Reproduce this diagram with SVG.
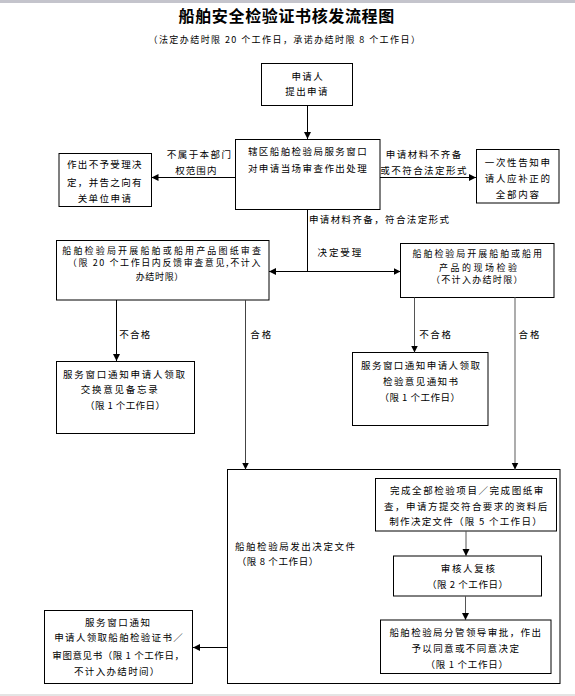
<svg xmlns="http://www.w3.org/2000/svg" width="575" height="696" viewBox="0 0 575 696">
<style>
  .t { font-family: "Noto Sans CJK SC", "Liberation Sans", sans-serif; font-size: 9.5px; fill: #000; }
  .s { font-size: 9px; }
  .title { font-family: "Noto Sans CJK SC", "Liberation Sans", sans-serif; font-size: 16px; font-weight: bold; fill: #000; }
  .box { fill: #fff; stroke: #000; stroke-width: 1; }
  .ln { fill: none; stroke: #000; stroke-width: 1; }
  .g1 { stroke: #444; }
  .g2 { stroke: #555; }
  .g3 { stroke: #808080; stroke-width: 1.3; }
</style>
<defs>
  <marker id="ah" markerUnits="userSpaceOnUse" markerWidth="8" markerHeight="8" refX="7" refY="3.5" orient="auto">
    <path d="M0,0 L7,3.5 L0,7 z" fill="#000"/>
  </marker>
  <marker id="ahs" markerUnits="userSpaceOnUse" markerWidth="8" markerHeight="8" refX="0" refY="3.5" orient="auto">
    <path d="M7,0 L0,3.5 L7,7 z" fill="#000"/>
  </marker>
</defs>
<rect x="0" y="0" width="575" height="3" fill="#c4c4cc"/>
<rect x="0" y="694" width="575" height="2" fill="#e4e4e4"/>

<text class="title" x="178.6" y="22" textLength="215.6" lengthAdjust="spacing">船舶安全检验证书核发流程图</text>
<text class="t" style="font-size:9px" x="148.5" y="43.4" textLength="271.4" lengthAdjust="spacing">（法定办结时限 20 个工作日，承诺办结时限 8 个工作日）</text>

<g id="node-apply">
  <rect class="box" x="261.5" y="63.5" width="91" height="42"/>
  <text class="t" x="291.5" y="79.6" textLength="31.2" lengthAdjust="spacing">申请人</text>
  <text class="t" x="285.3" y="95.3" textLength="42.2" lengthAdjust="spacing">提出申请</text>
</g>

<g id="node-window">
  <rect class="box" x="235.5" y="139.5" width="144.5" height="70"/>
  <text class="t" x="247.9" y="155.3" textLength="118.8" lengthAdjust="spacing">辖区船舶检验局服务窗口</text>
  <text class="t" x="247.9" y="171.9" textLength="118.8" lengthAdjust="spacing">对申请当场审查作出处理</text>
</g>

<g id="node-reject">
  <rect class="box" x="59" y="153.5" width="92.5" height="53"/>
  <text class="t" x="67" y="167.9" textLength="74.5" lengthAdjust="spacing">作出不予受理决</text>
  <text class="t" x="67" y="185.9" textLength="74.5" lengthAdjust="spacing">定，并告之向有</text>
  <text class="t" x="77.7" y="201.6" textLength="53.2" lengthAdjust="spacing">关单位申请</text>
</g>

<g id="node-supplement">
  <rect class="box" x="476.5" y="149.5" width="82.5" height="53.5"/>
  <text class="t" x="484.8" y="165.9" textLength="65.2" lengthAdjust="spacing">一次性告知申</text>
  <text class="t" x="484.8" y="182.3" textLength="65.2" lengthAdjust="spacing">请人应补正的</text>
  <text class="t" x="495.8" y="197.6" textLength="43.2" lengthAdjust="spacing">全部内容</text>
</g>

<g id="node-drawing-review">
  <rect class="box" x="56.5" y="240.5" width="212.5" height="59.5"/>
  <text class="t s" x="62.3" y="254.4" textLength="198.7" lengthAdjust="spacing">船舶检验局开展船舶或船用产品图纸审查</text>
  <text class="t s" x="67.8" y="266.1" textLength="192.6" lengthAdjust="spacing">（限 20 个工作日内反馈审查意见,不计入</text>
  <text class="t s" x="135.7" y="280.1" textLength="47.6" lengthAdjust="spacing">办结时限）</text>
</g>

<g id="node-site-inspection">
  <rect class="box" x="400.5" y="243.5" width="153.5" height="54"/>
  <text class="t s" x="412.5" y="257.4" textLength="129.5" lengthAdjust="spacing">船舶检验局开展船舶或船用</text>
  <text class="t s" x="439" y="270.7" textLength="78" lengthAdjust="spacing">产品的现场检验</text>
  <text class="t s" x="431" y="282.9" textLength="91.5" lengthAdjust="spacing">（不计入办结时限）</text>
</g>

<g id="node-memo">
  <rect class="box" x="56.5" y="361.5" width="138" height="72"/>
  <text class="t" x="63" y="377.9" textLength="122" lengthAdjust="spacing">服务窗口通知申请人领取</text>
  <text class="t" x="80.7" y="392.9" textLength="77" lengthAdjust="spacing">交换意见备忘录</text>
  <text class="t" x="85" y="408.6" textLength="80" lengthAdjust="spacing">（限 1 个工作日）</text>
</g>

<g id="node-notice">
  <rect class="box" x="352.5" y="352.5" width="135.5" height="73"/>
  <text class="t" x="361" y="369.1" textLength="119" lengthAdjust="spacing">服务窗口通知申请人领取</text>
  <text class="t" x="383" y="384.6" textLength="75" lengthAdjust="spacing">检验意见通知书</text>
  <text class="t" x="379.5" y="400.9" textLength="80.5" lengthAdjust="spacing">（限 1 个工作日）</text>
</g>

<g id="node-decision">
  <rect class="box" x="227.5" y="469.5" width="332.5" height="214"/>
  <text class="t" x="235" y="549.6" textLength="120" lengthAdjust="spacing">船舶检验局发出决定文件</text>
  <text class="t" x="236.7" y="565.3" textLength="81.6" lengthAdjust="spacing">（限 8 个工作日）</text>
</g>

<g id="node-complete">
  <rect class="box" x="375.5" y="478.5" width="181" height="52.5"/>
  <text class="t" x="390" y="494.3" textLength="153.3" lengthAdjust="spacing">完成全部检验项目／完成图纸审</text>
  <text class="t" x="384" y="510.3" textLength="163.3" lengthAdjust="spacing">查，申请方提交符合要求的资料后</text>
  <text class="t" x="389.3" y="525.3" textLength="152.4" lengthAdjust="spacing">制作决定文件（限 5 个工作日）</text>
</g>

<g id="node-review">
  <rect class="box" x="393.5" y="556" width="148" height="40"/>
  <text class="t" x="440.7" y="571.9" textLength="54.3" lengthAdjust="spacing">审核人复核</text>
  <text class="t" x="427" y="587.9" textLength="81" lengthAdjust="spacing">（限 2 个工作日）</text>
</g>

<g id="node-approve">
  <rect class="box" x="380.5" y="620" width="170.5" height="53.5"/>
  <text class="t" x="389.4" y="636.3" textLength="151.6" lengthAdjust="spacing">船舶检验局分管领导审批，作出</text>
  <text class="t" x="411.4" y="652.3" textLength="107.5" lengthAdjust="spacing">予以同意或不同意决定</text>
  <text class="t" x="425.4" y="667.6" textLength="82.6" lengthAdjust="spacing">（限 1 个工作日）</text>
</g>

<g id="node-certificate">
  <rect class="box" x="44.5" y="610.5" width="148" height="73"/>
  <text class="t" x="85" y="626.3" textLength="65" lengthAdjust="spacing">服务窗口通知</text>
  <text class="t" x="54.3" y="641.3" textLength="128.4" lengthAdjust="spacing">申请人领取船舶检验证书／</text>
  <text class="t" x="52.3" y="658.6" textLength="131.7" lengthAdjust="spacing">审图意见书（限 1 个工作日，</text>
  <text class="t" x="74" y="674.9" textLength="85.3" lengthAdjust="spacing">不计入办结时间）</text>
</g>

<g id="connectors">
  <line class="ln" x1="307.5" y1="106" x2="307.5" y2="139" marker-end="url(#ah)"/>
  <line class="ln" x1="235" y1="177.5" x2="151.5" y2="177.5" marker-end="url(#ah)"/>
  <line class="ln" x1="380" y1="177.5" x2="476" y2="177.5" marker-end="url(#ah)"/>
  <line class="ln" x1="307.5" y1="209.5" x2="307.5" y2="271.5"/>
  <line class="ln" x1="269" y1="271.5" x2="400.5" y2="271.5" marker-start="url(#ahs)" marker-end="url(#ah)"/>
  <line class="ln" x1="116.5" y1="300" x2="116.5" y2="361" marker-end="url(#ah)"/>
  <line class="ln g1" x1="245.5" y1="300" x2="245.5" y2="469.5" marker-end="url(#ah)"/>
  <line class="ln g2" x1="414.5" y1="297.5" x2="414.5" y2="352.5" marker-end="url(#ah)"/>
  <line class="ln g3" x1="515" y1="297.5" x2="515" y2="469.5" marker-end="url(#ah)"/>
  <line class="ln g2" x1="466" y1="531" x2="466" y2="556" marker-end="url(#ah)"/>
  <line class="ln g2" x1="465.5" y1="596" x2="465.5" y2="620" marker-end="url(#ah)"/>
  <line class="ln" x1="227.5" y1="647.5" x2="193" y2="647.5" marker-end="url(#ah)"/>
  <text class="t" x="166.8" y="157.9" textLength="64.2" lengthAdjust="spacing">不属于本部门</text>
  <text class="t" x="175.3" y="173.6" textLength="41.1" lengthAdjust="spacing">权范围内</text>
  <text class="t" x="385.8" y="157.9" textLength="75.5" lengthAdjust="spacing">申请材料不齐备</text>
  <text class="t" x="380.3" y="173.6" textLength="86.2" lengthAdjust="spacing">或不符合法定形式</text>
  <text class="t" x="309" y="222.9" textLength="140" lengthAdjust="spacing">申请材料齐备，符合法定形式</text>
  <text class="t" x="317.6" y="255.9" textLength="43.6" lengthAdjust="spacing">决定受理</text>
  <text class="t" x="119.2" y="337.6" textLength="31.1" lengthAdjust="spacing">不合格</text>
  <text class="t" x="250.3" y="337.6" textLength="21" lengthAdjust="spacing">合格</text>
  <text class="t" x="419.2" y="337.6" textLength="31.8" lengthAdjust="spacing">不合格</text>
  <text class="t" x="518.5" y="337.6" textLength="21" lengthAdjust="spacing">合格</text>
</g>
</svg>
